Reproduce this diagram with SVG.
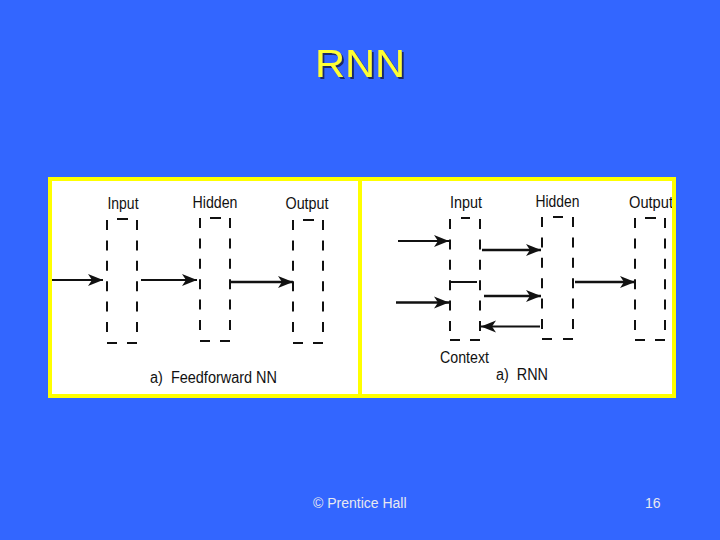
<svg xmlns="http://www.w3.org/2000/svg" width="720" height="540" viewBox="0 0 720 540">
<style>
.lbl{font-family:"Liberation Sans",Arial,sans-serif;font-size:17px;fill:#111;text-anchor:middle}
.cap{font-family:"Liberation Sans",Arial,sans-serif;font-size:16px;fill:#111}
.dv{stroke:#111;stroke-width:2;stroke-dasharray:10 10.4;fill:none}
.sd{stroke:#111;stroke-width:2;fill:none}
.ar{stroke:#111;stroke-width:1.8;fill:none;marker-end:url(#ah)}
.foot{font-family:"Liberation Sans",Arial,sans-serif;font-size:14px;fill:#E8E8F0}
</style>
<defs>
<marker id="ah" markerUnits="userSpaceOnUse" markerWidth="16" markerHeight="14" refX="15" refY="7" orient="auto">
<path d="M0,1 L15,7 L0,13 L4,7 z" fill="#111"/>
</marker>
<filter id="shadow" x="-10%" y="-10%" width="130%" height="140%">
<feOffset in="SourceAlpha" dx="2" dy="2" result="o"/>
<feFlood flood-color="#1a2a66"/>
<feComposite in2="o" operator="in" result="s"/>
<feMerge><feMergeNode in="s"/><feMergeNode in="SourceGraphic"/></feMerge>
</filter>
</defs>
<rect x="0" y="0" width="720" height="540" fill="#3366FF"/>
<g id="title">
<text x="360" y="77" font-family="Liberation Sans,Arial,sans-serif" font-size="38" fill="#FFFF33" text-anchor="middle" textLength="90" lengthAdjust="spacingAndGlyphs" filter="url(#shadow)">RNN</text>
</g>
<g id="frame">
<rect x="50" y="179" width="624" height="217" fill="#FFFFFF" stroke="#FFFF00" stroke-width="4"/>
<line x1="360" y1="179" x2="360" y2="396" stroke="#FFFF00" stroke-width="4"/>
</g>
<g id="ff-input">
<text class="lbl" x="123" y="209" textLength="31" lengthAdjust="spacingAndGlyphs">Input</text>
<line class="dv" x1="107" y1="220" x2="107" y2="334"/>
<line class="dv" x1="137" y1="220" x2="137" y2="334"/>
<line class="sd" x1="117" y1="219" x2="128" y2="219"/>
<line class="sd" x1="107" y1="343" x2="117" y2="343"/>
<line class="sd" x1="127" y1="343" x2="137" y2="343"/>
</g>
<g id="ff-hidden">
<text class="lbl" x="215" y="208" textLength="45" lengthAdjust="spacingAndGlyphs">Hidden</text>
<line class="dv" x1="200" y1="218" x2="200" y2="332"/>
<line class="dv" x1="230" y1="218" x2="230" y2="332"/>
<line class="sd" x1="210" y1="218" x2="221" y2="218"/>
<line class="sd" x1="200" y1="341" x2="210" y2="341"/>
<line class="sd" x1="220" y1="341" x2="230" y2="341"/>
</g>
<g id="ff-output">
<text class="lbl" x="307" y="209" textLength="43" lengthAdjust="spacingAndGlyphs">Output</text>
<line class="dv" x1="293" y1="220" x2="293" y2="334"/>
<line class="dv" x1="323" y1="220" x2="323" y2="334"/>
<line class="sd" x1="303" y1="220" x2="314" y2="220"/>
<line class="sd" x1="293" y1="343" x2="303" y2="343"/>
<line class="sd" x1="313" y1="343" x2="323" y2="343"/>
</g>
<g id="ff-caption">
<text class="cap" x="150" y="383" textLength="127" lengthAdjust="spacingAndGlyphs" xml:space="preserve">a)  Feedforward NN</text>
</g>
<g id="rnn-input">
<text class="lbl" x="466" y="208" textLength="32" lengthAdjust="spacingAndGlyphs">Input</text>
<line class="dv" x1="450" y1="219" x2="450" y2="333"/>
<line class="dv" x1="480" y1="219" x2="480" y2="333"/>
<line class="sd" x1="461" y1="218" x2="470" y2="218"/>
<line class="sd" x1="450" y1="340" x2="460" y2="340"/>
<line class="sd" x1="470" y1="340" x2="480" y2="340"/>
<line class="sd" x1="451" y1="282" x2="477" y2="282"/>
</g>
<g id="rnn-context">
<text class="lbl" x="464.5" y="363" textLength="49" lengthAdjust="spacingAndGlyphs">Context</text>
</g>
<g id="rnn-hidden">
<text class="lbl" x="557.5" y="207" textLength="44" lengthAdjust="spacingAndGlyphs">Hidden</text>
<line class="dv" x1="542" y1="217" x2="542" y2="332"/>
<line class="dv" x1="573" y1="217" x2="573" y2="332"/>
<line class="sd" x1="553" y1="217" x2="563" y2="217"/>
<line class="sd" x1="542" y1="339" x2="552" y2="339"/>
<line class="sd" x1="563" y1="339" x2="573" y2="339"/>
</g>
<g id="rnn-output">
<text class="lbl" x="651" y="208" textLength="44" lengthAdjust="spacingAndGlyphs">Output</text>
<line class="dv" x1="635" y1="218" x2="635" y2="333"/>
<line class="dv" x1="665" y1="218" x2="665" y2="333"/>
<line class="sd" x1="645" y1="218" x2="656" y2="218"/>
<line class="sd" x1="635" y1="340" x2="645" y2="340"/>
<line class="sd" x1="655" y1="340" x2="665" y2="340"/>
<rect x="672" y="190" width="4" height="30" fill="#FFFF00"/>
</g>
<g id="rnn-caption">
<text class="cap" x="496" y="380" textLength="52" lengthAdjust="spacingAndGlyphs" xml:space="preserve">a)  RNN</text>
</g>
<g id="connectors">
<line class="ar" x1="52" y1="280" x2="103" y2="280"/>
<line class="ar" x1="141" y1="280" x2="197" y2="280"/>
<line class="ar" x1="231" y1="282" x2="293" y2="282" style="stroke-width:2.6"/>
<line class="ar" x1="398" y1="241" x2="449" y2="241"/>
<line class="ar" x1="482" y1="250" x2="541" y2="250" style="stroke-width:2.4"/>
<line class="ar" x1="396" y1="302.5" x2="449" y2="302.5" style="stroke-width:2.4"/>
<line class="ar" x1="484" y1="296" x2="541" y2="296" style="stroke-width:2.4"/>
<line class="ar" x1="540" y1="326.5" x2="481" y2="326.5"/>
<line class="ar" x1="575" y1="282" x2="635" y2="282" style="stroke-width:2.4"/>
</g>
<g id="footer">
<text class="foot" x="313" y="508">© Prentice Hall</text>
<text class="foot" x="645" y="508">16</text>
</g>
</svg>
